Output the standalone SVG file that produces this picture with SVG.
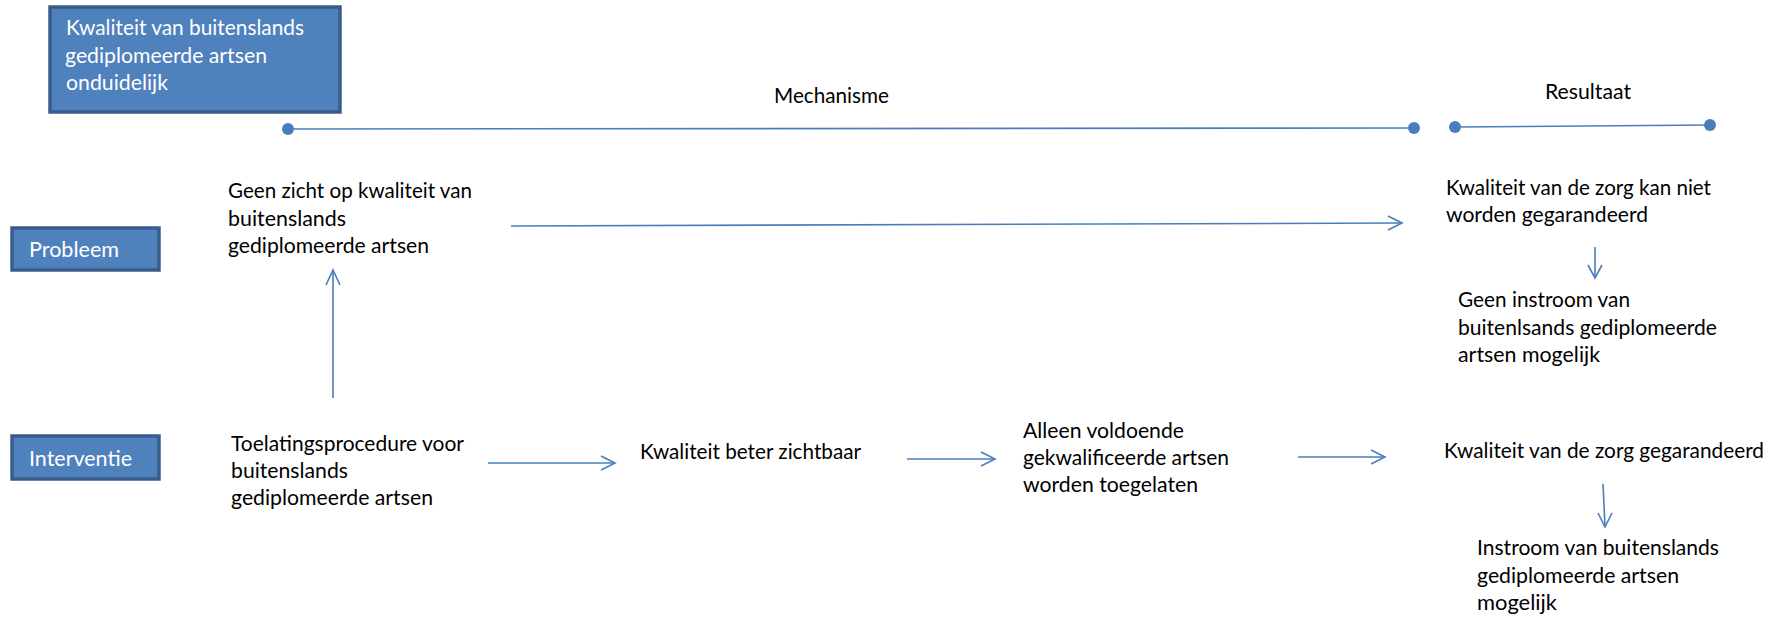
<svg xmlns="http://www.w3.org/2000/svg" width="1787" height="617" viewBox="0 0 1787 617">
<style>
.box{fill:#4f81bd;stroke:#385d8a;stroke-width:3.5}
.bt{font-family:Lato,"Liberation Sans",sans-serif;font-size:21px;fill:#ffffff}
.t{font-family:Lato,"Liberation Sans",sans-serif;font-size:21px;fill:#000000}
.tr{font-family:Lato,"Liberation Sans",sans-serif;font-size:21px;fill:#000000}
.ln{stroke:#4a7ebb;stroke-width:1.6;fill:none}
.dot{fill:#4a7ebb}
.ah{stroke:#4a7ebb;stroke-width:1.6;fill:none}
</style>
<rect width="1787" height="617" fill="#ffffff"/>
<g id="node-kwaliteit-onduidelijk">
<rect class="box" x="50" y="7" width="290" height="105"/>
<text class="bt" x="66" y="35" textLength="238" lengthAdjust="spacingAndGlyphs">Kwaliteit van buitenslands</text>
<text class="bt" x="65" y="63" textLength="202" lengthAdjust="spacingAndGlyphs">gediplomeerde artsen</text>
<text class="bt" x="66" y="90" textLength="102" lengthAdjust="spacingAndGlyphs">onduidelijk</text>
</g>
<g id="node-probleem">
<rect class="box" x="12" y="228" width="147" height="42"/>
<text class="bt" x="29" y="257" textLength="90" lengthAdjust="spacingAndGlyphs">Probleem</text>
</g>
<g id="node-interventie">
<rect class="box" x="12" y="436" width="147" height="43"/>
<text class="bt" x="29" y="466" textLength="103" lengthAdjust="spacingAndGlyphs">Interventie</text>
</g>
<g id="label-mechanisme">
<text class="t" x="774" y="103" textLength="115" lengthAdjust="spacingAndGlyphs">Mechanisme</text>
</g>
<g id="label-resultaat">
<text class="tr" x="1545" y="99" textLength="86" lengthAdjust="spacingAndGlyphs">Resultaat</text>
</g>
<g id="node-geen-zicht">
<text class="t" x="228" y="198" textLength="244" lengthAdjust="spacingAndGlyphs">Geen zicht op kwaliteit van</text>
<text class="t" x="228" y="226" textLength="118" lengthAdjust="spacingAndGlyphs">buitenslands</text>
<text class="t" x="228" y="253" textLength="201" lengthAdjust="spacingAndGlyphs">gediplomeerde artsen</text>
</g>
<g id="node-toelating">
<text class="t" x="231" y="451" textLength="233" lengthAdjust="spacingAndGlyphs">Toelatingsprocedure voor</text>
<text class="t" x="231" y="478" textLength="117" lengthAdjust="spacingAndGlyphs">buitenslands</text>
<text class="t" x="231" y="505" textLength="202" lengthAdjust="spacingAndGlyphs">gediplomeerde artsen</text>
</g>
<g id="node-beter-zichtbaar">
<text class="t" x="640" y="459" textLength="221" lengthAdjust="spacingAndGlyphs">Kwaliteit beter zichtbaar</text>
</g>
<g id="node-alleen-voldoende">
<text class="t" x="1023" y="438" textLength="161" lengthAdjust="spacingAndGlyphs">Alleen voldoende</text>
<text class="t" x="1023" y="465" textLength="206" lengthAdjust="spacingAndGlyphs">gekwalificeerde artsen</text>
<text class="t" x="1023" y="492" textLength="175" lengthAdjust="spacingAndGlyphs">worden toegelaten</text>
</g>
<g id="node-zorg-niet">
<text class="tr" x="1446" y="195" textLength="265" lengthAdjust="spacingAndGlyphs">Kwaliteit van de zorg kan niet</text>
<text class="tr" x="1446" y="222" textLength="202" lengthAdjust="spacingAndGlyphs">worden gegarandeerd</text>
</g>
<g id="node-geen-instroom">
<text class="tr" x="1458" y="307" textLength="172" lengthAdjust="spacingAndGlyphs">Geen instroom van</text>
<text class="tr" x="1458" y="335" textLength="259" lengthAdjust="spacingAndGlyphs">buitenlsands gediplomeerde</text>
<text class="tr" x="1458" y="362" textLength="142" lengthAdjust="spacingAndGlyphs">artsen mogelijk</text>
</g>
<g id="node-zorg-gegarandeerd">
<text class="tr" x="1444" y="458" textLength="320" lengthAdjust="spacingAndGlyphs">Kwaliteit van de zorg gegarandeerd</text>
</g>
<g id="node-instroom">
<text class="tr" x="1477" y="555" textLength="242" lengthAdjust="spacingAndGlyphs">Instroom van buitenslands</text>
<text class="tr" x="1477" y="583" textLength="202" lengthAdjust="spacingAndGlyphs">gediplomeerde artsen</text>
<text class="tr" x="1477" y="610" textLength="80" lengthAdjust="spacingAndGlyphs">mogelijk</text>
</g>
<g id="connectors">
<line class="ln" x1="288" y1="129" x2="1414" y2="128"/>
<circle class="dot" cx="288" cy="129" r="6"/>
<circle class="dot" cx="1414" cy="128" r="6"/>
<line class="ln" x1="1455" y1="127" x2="1710" y2="125"/>
<circle class="dot" cx="1455" cy="127" r="6"/>
<circle class="dot" cx="1710" cy="125" r="6"/>
<line class="ln" x1="511" y1="226" x2="1401" y2="223"/>
<polyline class="ah" points="1388,216 1402,223 1388,230"/>
<line class="ln" x1="333" y1="398" x2="333" y2="271"/>
<polyline class="ah" points="326,285 333,270 340,285"/>
<line class="ln" x1="1595" y1="247" x2="1595" y2="277"/>
<polyline class="ah" points="1588,265 1595,278 1602,265"/>
<line class="ln" x1="488" y1="463" x2="614" y2="463"/>
<polyline class="ah" points="601,456 615,463 601,470"/>
<line class="ln" x1="907" y1="459" x2="994" y2="459"/>
<polyline class="ah" points="981,452 995,459 981,466"/>
<line class="ln" x1="1298" y1="457" x2="1384" y2="457"/>
<polyline class="ah" points="1371,450 1385,457 1371,464"/>
<line class="ln" x1="1603" y1="484" x2="1605" y2="526"/>
<polyline class="ah" points="1598,513 1605,527 1612,513"/>
</g>
</svg>
